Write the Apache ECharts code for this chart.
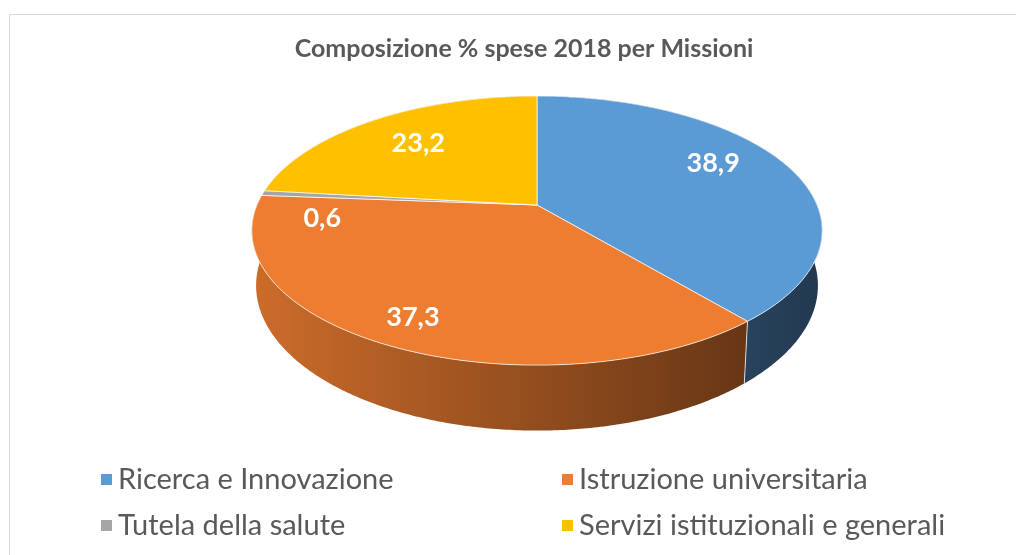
<!DOCTYPE html>
<html>
<head>
<meta charset="utf-8">
<script src="https://cdn.jsdelivr.net/npm/echarts@6/dist/echarts.min.js"></script>
<style>
  html, body { margin: 0; padding: 0; background: #ffffff; }
  #chart { width: 1016px; height: 555px; }
</style>
</head>
<body>
<div id="chart"></div>
<script>
// ---- data ----
const categories = ['Ricerca e Innovazione', 'Istruzione universitaria', 'Tutela della salute', 'Servizi istituzionali e generali'];
const shares = [38.9, 37.3, 0.6, 23.2];
const titleText = 'Composizione % spese 2018 per Missioni';

// ---- style ----
const palette = ['#5B9BD5', '#ED7D31', '#A5A5A5', '#FFC000'];
const FONT = 'Lato, "Open Sans", sans-serif';

// ---- 3D pie geometry (perspective projection of a tilted disc) ----
const G = { cx: 537, cy: 205, A: 280, B: 129.7, k: -0.19, H: 53, bx: 0.985 };
const total = shares.reduce((a, b) => a + b, 0);
const starts = [];
let acc = 0;
shares.forEach(v => { starts.push(acc / total * Math.PI * 2); acc += v; });
const ends = shares.map((v, i) => starts[i] + v / total * Math.PI * 2);

function proj(t, r, bottom) {
  const X = r * Math.sin(t), Y = -r * Math.cos(t);
  const w = 1 + G.k * Y;
  if (!bottom) return [G.cx + G.A * X / w, G.cy + G.B * Y / w];
  return [G.cx + G.A * X / w * G.bx, G.cy + (G.B * Y + G.H) / w];
}
function arc(t0, t1, bottom) {
  const n = Math.max(2, Math.ceil((t1 - t0) / 0.01));
  const pts = [];
  for (let i = 0; i <= n; i++) pts.push(proj(t0 + (t1 - t0) * i / n, 1, bottom));
  return pts;
}
function hexToRgb(h) {
  const n = parseInt(h.slice(1), 16);
  return [(n >> 16) & 255, (n >> 8) & 255, n & 255];
}
function shade(h, f) {
  const c = hexToRgb(h).map(v => Math.round(v * f));
  return 'rgb(' + c.join(',') + ')';
}
function fmt(v) { return v.toFixed(1).replace('.', ','); }

const chart = echarts.init(document.getElementById('chart'), null, { renderer: 'canvas' });

const pieData = categories.map((c, i) => ({ name: c, value: shares[i], itemStyle: { color: palette[i] } }));

const legendBase = {
  orient: 'vertical', top: 460, itemWidth: 11, itemHeight: 11, itemGap: 17, icon: 'rect',
  textStyle: { fontFamily: FONT, fontSize: 29, color: '#595959', padding: [0, 0, 0, 1] },
  selectedMode: false
};

const option = {
  animation: false,
  backgroundColor: '#ffffff',
  title: {
    text: titleText,
    left: 519, top: 31, textAlign: 'center',
    textStyle: { fontFamily: FONT, fontSize: 25, fontWeight: 'bold', color: '#595959' }
  },
  legend: [
    Object.assign({}, legendBase, { data: [categories[0], categories[2]], left: 96 }),
    Object.assign({}, legendBase, { data: [categories[1], categories[3]], left: 557 })
  ],
  graphic: [{
    type: 'rect', silent: true,
    shape: { x: 9.5, y: 14.5, width: 1100, height: 700 },
    style: { fill: 'none', stroke: '#D9D9D9', lineWidth: 1 }
  }],
  series: [
    { // legend provider (not drawn)
      type: 'pie', radius: [0, 0], center: [G.cx, G.cy], silent: true,
      label: { show: false }, labelLine: { show: false }, data: pieData, z: 0
    },
    { // side walls
      type: 'custom', coordinateSystem: 'none', z: 2, silent: true,
      data: shares.map((v, i) => [i, v]),
      renderItem: function (params, api) {
        const i = params.dataIndex;
        const top = arc(starts[i], ends[i], false);
        const bot = arc(starts[i], ends[i], true).reverse();
        const base = palette[i];
        return {
          type: 'polygon',
          shape: { points: top.concat(bot) },
          style: {
            fill: new echarts.graphic.LinearGradient(G.cx - 285, 0, G.cx + 285, 0, [
              { offset: 0, color: shade(base, 0.86) },
              { offset: 1, color: shade(base, 0.37) }
            ], true),
            stroke: null
          }
        };
      }
    },
    { // slice boundary lines on the side
      type: 'custom', coordinateSystem: 'none', z: 3, silent: true,
      data: shares.map((v, i) => [i, v]),
      renderItem: function (params, api) {
        const i = params.dataIndex;
        const t = starts[i];
        const Y = -Math.cos(t);
        if (Y < 0.19) return { type: 'group', children: [] };
        const p0 = proj(t, 1, false), p1 = proj(t, 1, true);
        return {
          type: 'line',
          shape: { x1: p0[0], y1: p0[1], x2: p1[0], y2: p1[1] },
          style: { stroke: 'rgba(255,255,255,0.75)', lineWidth: 1 }
        };
      }
    },
    { // top faces + labels
      type: 'custom', coordinateSystem: 'none', z: 4, silent: true,
      data: shares.map((v, i) => [i, v]),
      renderItem: function (params, api) {
        const i = params.dataIndex;
        const pts = [[G.cx, G.cy]].concat(arc(starts[i], ends[i], false));
        const mid = (starts[i] + ends[i]) / 2;
        const Ym = -Math.cos(mid);
        const Xm = Math.sin(mid);
        const r = 0.7 + 0.15 * Math.max(0, Ym);
        const lp = proj(mid, r, false);
        const small = shares[i] / total < 0.03;
        const fs = 27;
        // Excel-like placement: labels on the right-hand far side sit a bit higher
        const lift = (Xm > 0 && Ym < 0) ? 12 : 0;
        return {
          type: 'group',
          children: [
            {
              type: 'polygon',
              shape: { points: pts },
              style: { fill: palette[i], stroke: 'rgba(255,255,255,0.7)', lineWidth: 1 }
            },
            {
              type: 'text',
              z2: 10,
              style: {
                text: fmt(api.value(1)),
                x: lp[0] - (small ? 22 : 0), y: lp[1] + (small ? fs * 0.8 : 0) - lift,
                align: 'center', verticalAlign: 'middle',
                fill: '#ffffff', fontFamily: FONT, fontSize: fs, fontWeight: 'bold'
              }
            }
          ]
        };
      }
    }
  ]
};
chart.setOption(option);
</script>
</body>
</html>
